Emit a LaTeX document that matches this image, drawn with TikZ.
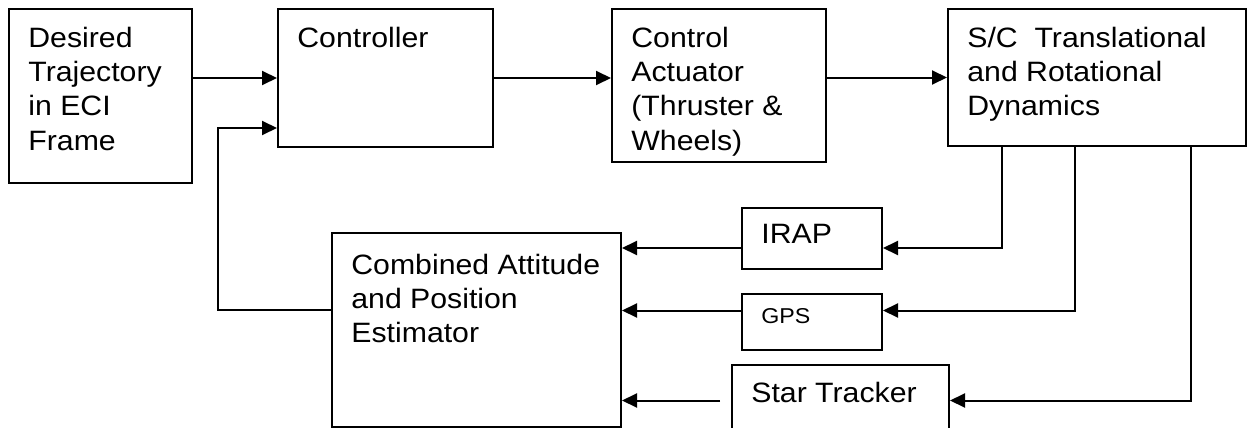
\documentclass[tikz,border=0pt]{standalone}
\usepackage{fontspec}
\setmainfont{Liberation Sans}[FakeStretch=1.08]
\usepackage{tikz}
\usetikzlibrary{arrows.meta,calc,fit,positioning}
\newcommand{\boxfont}{\fontsize{14}{17.2}\selectfont}
\newcommand{\gpsfont}{\fontsize{10.75}{13}\selectfont}
\tikzset{
  block/.style={rectangle, draw, line width=1pt, inner sep=0, fit={#1}},
  blocktext/.style={anchor=north west, inner xsep=10pt, inner ysep=9.2pt,
    align=left, font=\boxfont},
  arr/.style={-{Triangle[length=7.5pt,width=7pt]}, line width=1pt}
}
\begin{document}
\begin{tikzpicture}[x=0.5pt, y=-0.5pt]
  \useasboundingbox (0,0) rectangle (1249,428);
  \node[block={(9,9) (192,183)},
    label={[blocktext]north west:{Desired\\Trajectory\\in ECI\\Frame}}] (traj) {};
  \node[block={(278,9) (493,147)},
    label={[blocktext]north west:{Controller}}] (ctrl) {};
  \node[block={(612,9) (826,162)},
    label={[blocktext]north west:{Control\\Actuator\\(Thruster \&\\Wheels)}}] (act) {};
  \node[block={(948,9) (1246,146)},
    label={[blocktext]north west:{S/C\ \ Translational\\and Rotational\\Dynamics}}] (dyn) {};
  \node[block={(332,233) (621,426.5)},
    label={[blocktext, inner ysep=10.7pt]north west:{Combined Attitude\\and Position\\Estimator}}] (est) {};
  \node[block={(742,208) (882,269)},
    label={[blocktext, inner ysep=8.4pt]north west:{IRAP}}] (irap) {};
  \node[block={(742,294) (882,350)},
    label={[blocktext, font=\gpsfont, inner ysep=7.5pt]north west:{GPS}}] (gps) {};
  \node[block={(732,365) (949,431)},
    label={[blocktext, inner ysep=8.9pt]north west:{Star Tracker}}] (star) {};
  \coordinate (fb) at (218,200);

  \draw[arr] (traj.east |- ctrl.west) -- (ctrl.west);
  \draw[arr] (ctrl.east) -- (ctrl.east -| act.west);
  \draw[arr] (act.east |- dyn.west) -- (dyn.west);
  \draw[arr] (dyn.south -| 1002,0) |- ($(irap.east)+(0,9.5)$);
  \draw[arr] (dyn.south -| 1075,0) |- ($(gps.east)+(0,-11.5)$);
  \draw[arr] (dyn.south -| 1191,0) |- ($(star.east)+(0,2.5)$);
  \draw[arr] ($(irap.west)+(0,9.5)$) -- ($(irap.west -| est.east)+(0,9.5)$);
  \draw[arr] ($(gps.west)+(0,-11.5)$) -- ($(gps.west -| est.east)+(0,-11.5)$);
  \draw[arr] ($(star.west)+(-11,2.5)$) -- ($(star.west -| est.east)+(0,2.5)$);
  \draw[arr] ($(est.west)+(0,-20)$) -| (fb) |- ($(ctrl.west)+(0,50)$);
\end{tikzpicture}
\end{document}
